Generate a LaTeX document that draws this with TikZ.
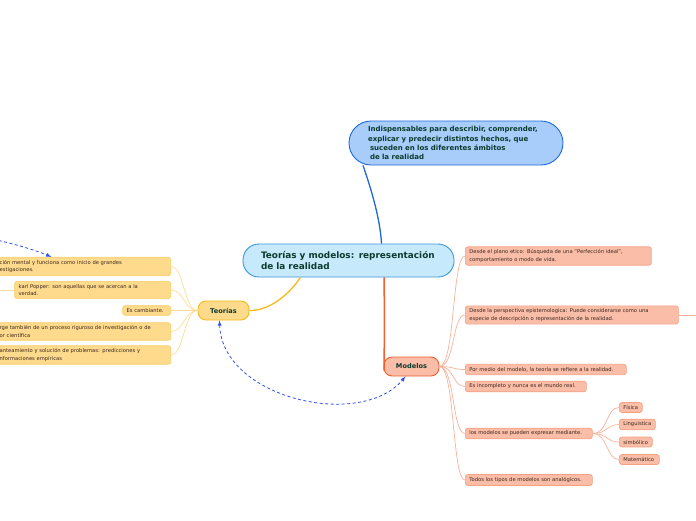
\documentclass[tikz,border=0pt]{standalone}
\usepackage{fontspec}
\setmainfont{DejaVu Sans}
\usetikzlibrary{shapes,arrows,positioning,calc}

\hyphenpenalty=10000
\exhyphenpenalty=10000

\definecolor{topfill}{RGB}{168,205,250}
\definecolor{topline}{RGB}{30,105,215}
\definecolor{mainfill}{RGB}{198,234,251}
\definecolor{mainline}{RGB}{60,150,220}
\definecolor{yelfill}{RGB}{254,218,140}
\definecolor{yelline}{RGB}{250,205,100}
\definecolor{teoline}{RGB}{245,185,25}
\definecolor{salfill}{RGB}{249,189,168}
\definecolor{salline}{RGB}{245,160,130}
\definecolor{modline}{RGB}{240,95,45}
\definecolor{yelwire}{RGB}{253,222,150}
\definecolor{salwire}{RGB}{247,178,155}
\definecolor{titletext}{RGB}{12,58,45}
\definecolor{leaftext}{RGB}{60,40,30}
\definecolor{linkblue}{RGB}{45,80,235}

\tikzset{
  topic/.style={draw, line width=0.9pt, align=left, text=titletext,
    font=\bfseries\fontsize{7}{9.1}\selectfont},
  branch/.style={draw, line width=0.9pt, rounded corners=8pt, inner sep=0pt,
    minimum height=19pt, text=titletext, font=\bfseries\fontsize{6.6}{8}\selectfont},
  yleaf/.style={draw=yelline, fill=yelfill, line width=0.7pt, rounded corners=2.5pt,
    inner xsep=4pt, inner ysep=2.8pt, align=left, anchor=east, text=leaftext,
    font=\fontsize{5.2}{7.6}\selectfont},
  sleaf/.style={yleaf, draw=salline, fill=salfill, anchor=west},
  ywire/.style={yelwire, line width=0.7pt},
  swire/.style={salwire, line width=0.7pt},
  relation/.style={linkblue, line width=0.8pt, dash pattern=on 3pt off 2.5pt}
}

\begin{document}
\begin{tikzpicture}[x=1pt,y=-1pt]
\useasboundingbox (0,0) rectangle (696,520);
\clip (0,0) rectangle (696,520);

% central topic and first level
\node[topic, draw=mainline, fill=mainfill, rounded corners=16pt, text width=175pt,
  inner xsep=18pt, minimum height=33pt, font=\bfseries\fontsize{8.9}{10.8}\selectfont]
  (main) at (348.5,260.5) {Teorías y modelos: representación\\de la realidad};
\node[topic, draw=topline, fill=topfill, rounded corners=22pt, text width=176pt,
  inner xsep=19pt, minimum height=44pt]
  (fines) at (456,143) {Indispensables para describir, comprender,\\explicar y predecir distintos hechos, que\\\hspace{2pt}suceden en los diferentes ámbitos\\\hspace{2pt}de la realidad};
\node[branch, draw=teoline, fill=yelfill, minimum width=51pt] (teorias) at (223.5,310.5) {Teorías};
\node[branch, draw=modline, fill=salfill, minimum width=55pt] (modelos) at (411.5,366.5) {Modelos};

\draw[color=topline, line width=1.3pt] ([xshift=33pt]main.north) .. controls (380,215) and (368,180) .. ([xshift=-93pt]fines.south);
\draw[color=teoline, line width=1.3pt] ([xshift=-48pt]main.south) .. controls (285,300) and (265,311) .. (teorias.east);
\draw[color=modline, line width=1.5pt] ([xshift=0.5pt]main.south -| modelos.west) .. controls (384.5,320) .. ([xshift=0.5pt,yshift=-4pt]modelos.west);

% teorias
\node[yleaf, text width=167pt] (mental) at (171,266.5) {ción mental y funciona como inicio de grandes\\estigaciones.};
\node[yleaf, text width=148pt] (popper) at (171,290) {karl Popper: son aquellas que se acercan a la\\verdad.};
\node[yleaf, text width=40pt] (cambio) at (171,310.5) {Es cambiante.};
\node[yleaf, text width=167pt] (rigor) at (171,331.5) {rge también de un proceso riguroso de investigación o de\\or científica};
\node[yleaf, text width=167pt] (plantea) at (171,355) {anteamiento y solución de problemas: predicciones y\\nformaciones empíricas};

\foreach \n in {mental,popper,cambio,rigor,plantea}
  \draw[ywire] (teorias.west) .. controls (184,310.5) and (184,0 |- \n.east) .. (\n.east);

\coordinate (popperfar) at (-10,290);
\draw[ywire] (popper.west) -- (popperfar);

% modelos
\node[sleaf, text width=178pt] (etico) at (465,256) {Desde el plano etico: Búsqueda de una "Perfección ideal",\\comportamiento o modo de vida.};
\node[sleaf, text width=205pt] (episte) at (465,315) {Desde la perspectiva epistemologica: Puede considerarse como una\\especie de descripción o representación de la realidad.};
\node[sleaf, text width=153pt] (medio) at (465,369.5) {Por medio del modelo, la teoría se refiere a la realidad.};
\node[sleaf, text width=113pt] (incomp) at (465,386.5) {Es incompleto y nunca es el mundo real.};
\node[sleaf, text width=119pt] (expresa) at (465,433.5) {los modelos se pueden expresar mediante.};
\node[sleaf, text width=119pt] (analog) at (465,480) {Todos los tipos de modelos son analógicos.};

\foreach \n in {etico,episte,medio,incomp,expresa,analog}
  \draw[swire] (modelos.east) .. controls (455,366.5) and (452,0 |- \n.west) .. (\n.west);

\coordinate (epistefar) at (700,315);
\draw[swire] (episte.east) -- (epistefar);

\node[sleaf, text width=15pt] (fisica) at (619,407.5) {Física};
\node[sleaf, text width=28pt] (lingu) at (619,424.5) {Linguistica};
\node[sleaf, text width=25pt] (simbo) at (619,442) {simbólico};
\node[sleaf, text width=32pt] (mate) at (619,459.5) {Matemático};

\foreach \n in {fisica,lingu,simbo,mate}
  \draw[swire] (expresa.east) .. controls (608,433.5) and (606,0 |- \n.west) .. (\n.west);

% relaciones
\draw[relation, latex-latex] ([xshift=-4pt]teorias.south) .. controls (222,398) and (360,430) .. ([xshift=-6pt]modelos.south);
\coordinate (lejos) at (-12,238);
\draw[relation, -latex] (lejos) .. controls (15,244) and (35,250) .. ([xshift=56pt]mental.north west);
\end{tikzpicture}
\end{document}
